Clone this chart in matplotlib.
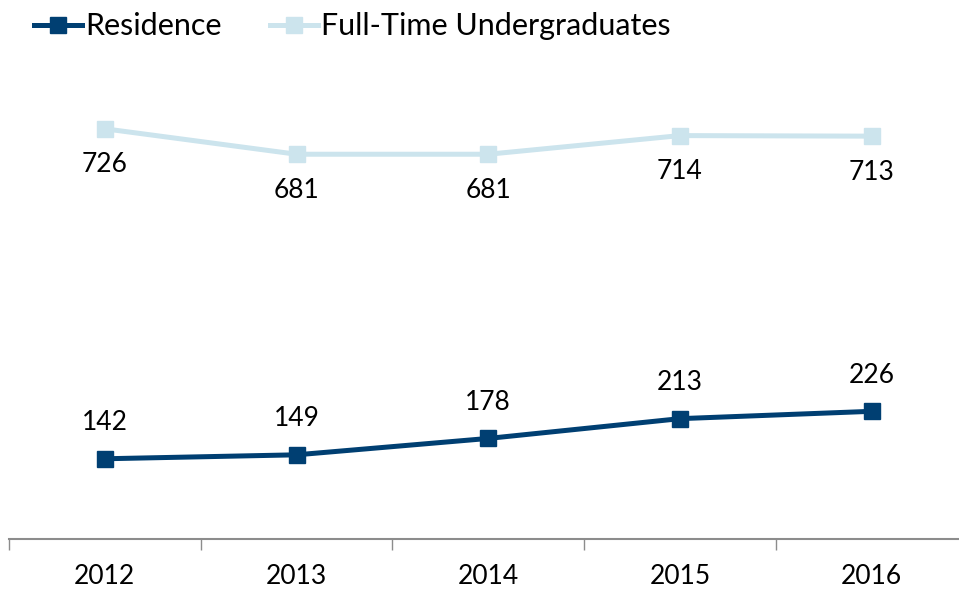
import matplotlib.pyplot as plt
import numpy as np

years = ["2012", "2013", "2014", "2015", "2016"]
residence = [142, 149, 178, 213, 226]
undergrads = [726, 681, 681, 714, 713]

dark = "#003f72"
light = "#cce4ed"

plt.rcParams["font.family"] = ["Lato", "DejaVu Sans"]

fig = plt.figure(figsize=(9.59, 5.91), dpi=100)
# axes box in pixels: x 9 -> 967, y=0 at 539 px, y=800 at 87 px
ax = fig.add_axes([9 / 959, 52 / 591, 958.5 / 959, 452 / 591])

x = np.arange(len(years))
ax.plot(x, residence, color=dark, lw=3.6, marker="s", ms=12, label="Residence")
ax.plot(x, undergrads, color=light, lw=3.6, marker="s", ms=12,
        label="Full-Time Undergraduates")

for xi, v in zip(x, residence):
    ax.annotate(str(v), (xi, v), textcoords="offset points", xytext=(0, 17),
                ha="center", va="bottom", fontsize=19)
for xi, v in zip(x, undergrads):
    ax.annotate(str(v), (xi, v), textcoords="offset points", xytext=(0, -17),
                ha="center", va="top", fontsize=19)

ax.set_xlim(-0.5, 4.5)
ax.set_ylim(0, 800)
ax.set_xticks(np.arange(-0.5, 5, 1))
ax.set_xticklabels([])
ax.set_xticks(x, minor=True)
ax.set_xticklabels(years, minor=True, fontsize=19)
ax.tick_params(axis="x", which="major", length=8, color="#8c8c8c", width=1)
ax.tick_params(axis="x", which="minor", length=0, pad=18)
ax.set_yticks([])
for s in ["top", "right", "left"]:
    ax.spines[s].set_visible(False)
ax.spines["bottom"].set_color("#8c8c8c")
ax.spines["bottom"].set_linewidth(1.5)

fig.legend(loc="upper left", bbox_to_anchor=(16 / 959, 1.01), ncol=2,
           frameon=False, fontsize=22, handlelength=1.55, handletextpad=0.1,
           columnspacing=1.6, borderaxespad=0.2)

plt.savefig("out.png", dpi=100)
